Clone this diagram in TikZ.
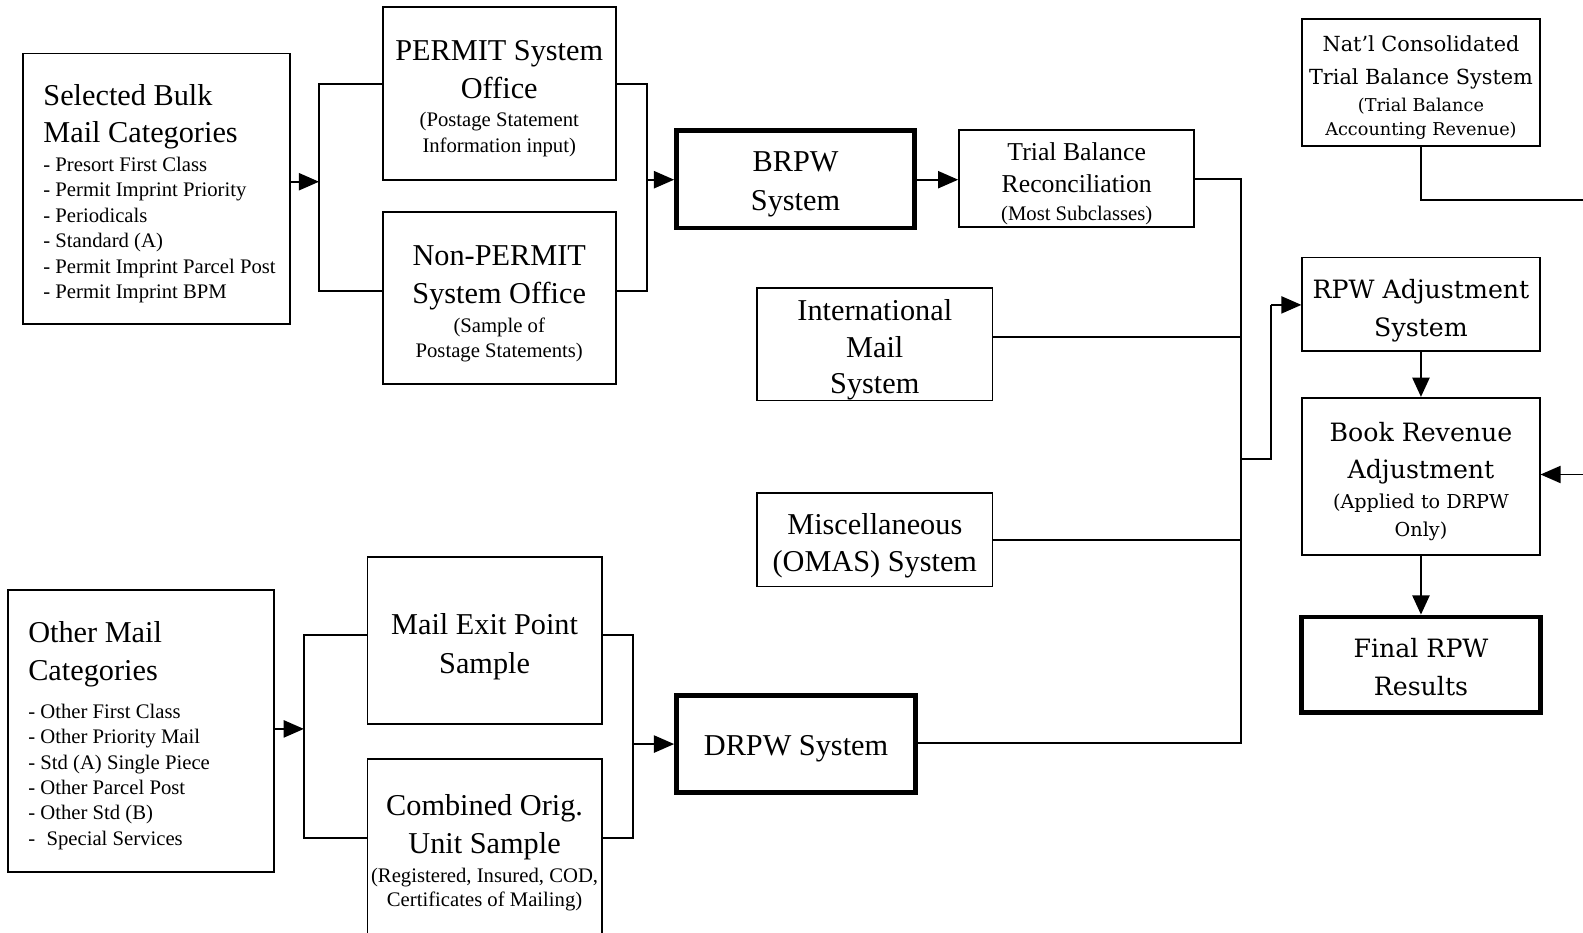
\documentclass[tikz,border=0pt]{standalone}
\usepackage{fontspec}
\setmainfont{Liberation Serif}
\newfontfamily\wideserif{DejaVu Serif}
\usetikzlibrary{arrows.meta}

\newcommand\fsz[2]{\fontsize{#1}{#2}\selectfont}
\newcommand\note{\fsz{20.5}{25}}
% one line of a category list, never broken
\newcommand\entry[1]{{\note\mbox{#1}}}
% first line of a box, given extra headroom so the text block sits lower
\newcommand\lift[2]{\raisebox{0pt}[\dimexpr\height+#1\relax]{#2}}

\begin{document}
\begin{tikzpicture}[x=1pt,y=-1pt,
  box/.style={draw, line width=1.8pt, rectangle, inner sep=0pt, align=center,
              font=\fsz{30}{38}},
  heavy/.style={box, line width=4.5pt},
  listbox/.style={box, align=flush left, text width=#1},
  wide/.style={box, font=\wideserif\fsz{25}{38}},
  wire/.style={line width=1.8pt},
  feed/.style={wire, -{Triangle[length=20pt,width=17pt]}},
  drop/.style={wire, -{Triangle[length=19pt,width=17pt]}}]

\path[use as bounding box, fill=white] (0,0) rectangle (1568,924);

% ---------- bulk mail branch ----------
\node[listbox=224pt, minimum width=264pt, minimum height=268pt] (bulk) at (155,187)
  {\lift{10pt}{Selected Bulk}\\[-1pt]
   Mail Categories\\[-10pt]
   \entry{- Presort First Class}\\[-13pt]
   \entry{- Permit Imprint Priority}\\[-12.5pt]
   \entry{- Periodicals}\\[-12.5pt]
   \entry{- Standard (A)}\\[-12.5pt]
   \entry{- Permit Imprint Parcel Post}\\[-13pt]
   \entry{- Permit Imprint BPM}};

\node[box, minimum width=231pt, minimum height=171pt] (permit) at (494.5,92.5)
  {\lift{10pt}{PERMIT System}\\
   Office\\[-10pt]
   {\note (Postage Statement}\\[-13pt]
   {\note Information input)}};

\node[box, minimum width=231pt, minimum height=170pt] (nonpermit) at (494.5,295)
  {\lift{12pt}{Non-PERMIT}\\
   System Office\\[-10pt]
   {\note (Sample of}\\[-13pt]
   {\note Postage Statements)}};

\node[heavy, minimum width=236pt, minimum height=97pt] (brpw) at (788,177.5)
  {\lift{10pt}{BRPW}\\[1pt] System};

\node[box, font=\fsz{25.5}{32}, minimum width=233pt, minimum height=96pt] (trial) at (1066.5,177)
  {\lift{10pt}{Trial Balance}\\
   Reconciliation\\[-5pt]
   {\note (Most Subclasses)}};

\coordinate (lb)  at (316,180);
\coordinate (lbt) at (316,83);
\coordinate (lbb) at (316,288);
\coordinate (rbt) at (641,83);
\coordinate (rbb) at (641,288);
\coordinate (rb)  at (641,178);

\draw[feed] (bulk.east |- lb) -- (lb);
\draw[wire] (permit.west |- lbt) -- (lbt) -- (lbb) -- (nonpermit.west |- lbb);
\draw[wire] (permit.east |- rbt) -- (rbt) -- (rbb) -- (nonpermit.east |- rbb);
\draw[feed] (rb) -- (brpw.west |- rb);
\draw[feed] (brpw.east |- 0,178) -- (trial.west |- 0,178);

% ---------- other systems ----------
\node[box, font=\fsz{30}{36.5}, minimum width=233pt, minimum height=108pt] (intl) at (866.5,341)
  {\lift{11pt}{International}\\ Mail\\ System};

\node[box, font=\fsz{30}{37}, minimum width=233pt, minimum height=93pt] (misc) at (866.5,534.5)
  {\lift{12pt}{Miscellaneous}\\ (OMAS) System};

% ---------- other mail branch ----------
\node[listbox=223pt, minimum width=263pt, minimum height=280pt] (other) at (139.5,724)
  {\lift{10pt}{Other Mail}\\[-1pt]
   Categories\\[0pt]
   \entry{- Other First Class}\\[-13pt]
   \entry{- Other Priority Mail}\\[-13pt]
   \entry{- Std (A) Single Piece}\\[-13pt]
   \entry{- Other Parcel Post}\\[-13pt]
   \entry{- Other Std (B)}\\[-12pt]
   \entry{-\hspace{0.55em}Special Services}};

\node[box, minimum width=232pt, minimum height=165pt] (exitpt) at (480,634.5)
  {\lift{12pt}{Mail Exit Point}\\ Sample};

\node[box, minimum width=232pt, minimum height=184pt] (combined) at (480,844)
  {\lift{2pt}{Combined Orig.}\\[-1pt]
   Unit Sample\\[-9pt]
   {\note (Registered, Insured, COD,}\\[-14pt]
   {\note Certificates of Mailing)}};

\node[heavy, minimum width=237pt, minimum height=96pt] (drpw) at (788.5,737)
  {\lift{10pt}{DRPW System}};

\coordinate (ob)  at (301,722);
\coordinate (obt) at (301,629);
\coordinate (obb) at (301,830);
\coordinate (pbt) at (627,629);
\coordinate (pbb) at (627,830);
\coordinate (pb)  at (627,737);

\draw[feed] (other.east |- ob) -- (ob);
\draw[wire] (exitpt.west |- obt) -- (obt) -- (obb) -- (combined.west |- obb);
\draw[wire] (exitpt.east |- pbt) -- (pbt) -- (pbb) -- (combined.east |- pbb);
\draw[feed] (pb) -- (drpw.west |- pb);

% ---------- collecting bus ----------
\coordinate (bustop) at (1229,177);
\coordinate (busbot) at (1229,736);
\coordinate (bustap) at (1229,455);
\coordinate (jog)    at (1259,455);
\coordinate (jogtop) at (1259,302);

\draw[wire] (trial.east |- bustop) -- (bustop) -- (busbot) -- (drpw.east |- busbot);
\draw[wire] (intl.east |- 0,334) -- (1229,334);
\draw[wire] (misc.east |- 0,535) -- (1229,535);

% ---------- adjustment column ----------
\node[wide, font=\wideserif\fsz{20.6}{32}, minimum width=235pt, minimum height=126pt] (natl) at (1407.5,82)
  {\lift{10pt}{Nat’l Consolidated}\\
   Trial Balance System\\[-5pt]
   {\fsz{17.5}{20}(Trial Balance}\\[-8pt]
   {\fsz{17.5}{20}Accounting Revenue)}};

\node[wide, minimum width=235pt, minimum height=93pt] (rpwadj) at (1407.5,301.5)
  {\lift{13pt}{RPW Adjustment}\\ System};

\node[wide, font=\wideserif\fsz{25}{37}, minimum width=235pt, minimum height=156pt] (bookrev) at (1407.5,472)
  {\lift{10pt}{Book Revenue}\\
   Adjustment\\[-7pt]
   {\fsz{19}{22}(Applied to DRPW}\\[-9pt]
   {\fsz{19}{22}Only)}};

\node[wide, line width=4.5pt, minimum width=237pt, minimum height=95pt] (final) at (1407.5,658.5)
  {\lift{4pt}{Final RPW}\\ Results};

\draw[wire] (bustap) -- (jog) -- (jogtop);
\draw[feed] (jogtop) -- (rpwadj.west |- jogtop);
\draw[drop] (rpwadj.south) -- (bookrev.north);
\draw[drop] (bookrev.south) -- (final.north);

\coordinate (tout) at (1600,198);
\coordinate (tin)  at (1600,470);
\draw[feed] (natl.south) -- (natl.south |- tout) -- (tout) -- (tin) -- (bookrev.east |- tin);

\end{tikzpicture}
\end{document}
